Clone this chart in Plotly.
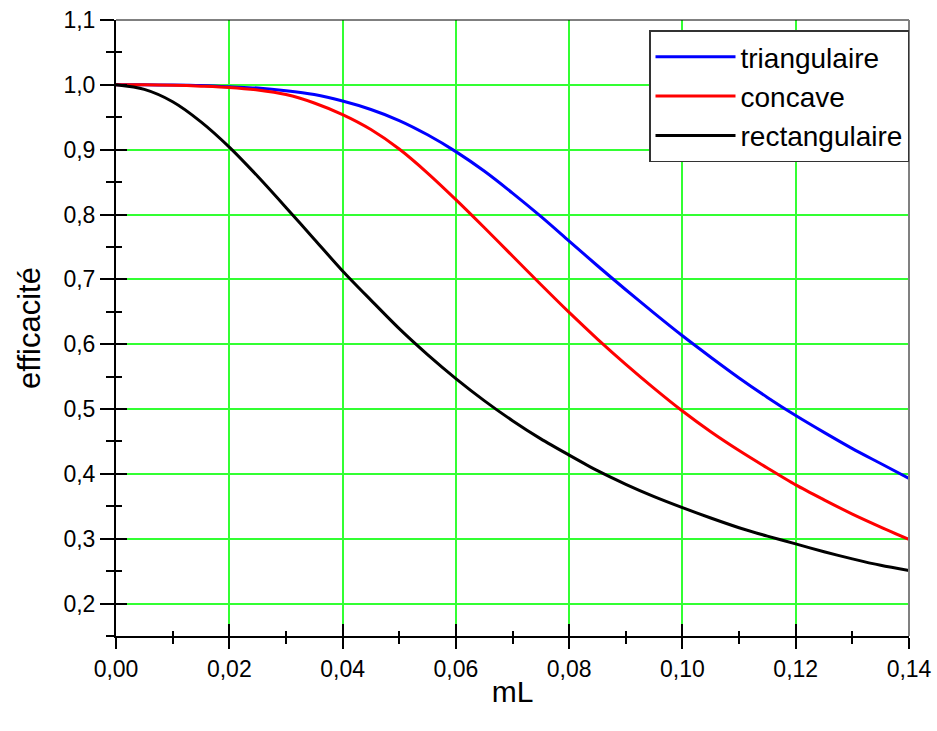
import plotly.graph_objects as go

# Fin efficiency versus mL for three fin profiles
ml = [0.000, 0.005, 0.010, 0.015, 0.020, 0.025, 0.030, 0.035, 0.040, 0.045,
      0.050, 0.055, 0.060, 0.065, 0.070, 0.075, 0.080, 0.085, 0.090, 0.095,
      0.100, 0.105, 0.110, 0.115, 0.120, 0.125, 0.130, 0.135, 0.140]

eff_triangulaire = [1.000, 1.000, 0.9998, 0.999, 0.997, 0.995, 0.991, 0.985, 0.975, 0.962,
                    0.945, 0.923, 0.897, 0.867, 0.833, 0.797, 0.759, 0.721, 0.684, 0.648,
                    0.613, 0.580, 0.548, 0.518, 0.490, 0.464, 0.439, 0.416, 0.393]

eff_concave = [1.000, 1.000, 0.9995, 0.998, 0.996, 0.992, 0.985, 0.972, 0.954, 0.931,
               0.901, 0.864, 0.823, 0.780, 0.736, 0.692, 0.649, 0.608, 0.569, 0.532,
               0.497, 0.465, 0.436, 0.409, 0.383, 0.360, 0.338, 0.318, 0.299]

eff_rectangulaire = [1.000, 0.993, 0.974, 0.943, 0.904, 0.859, 0.811, 0.762, 0.713, 0.668,
                     0.624, 0.584, 0.547, 0.513, 0.482, 0.454, 0.429, 0.405, 0.384, 0.365,
                     0.348, 0.332, 0.317, 0.304, 0.292, 0.280, 0.269, 0.259, 0.251]

series_names = ["triangulaire", "concave", "rectangulaire"]
series_colors = ["#0000ff", "#ff0000", "#000000"]

x_range = [0.0, 0.14]
y_range = [0.15, 1.1]

FONT = "Liberation Sans, Arial, sans-serif"
GRID = "#33ff33"
NONE = "rgba(0,0,0,0)"

fig = go.Figure()
for name, vals, col in zip(series_names,
                           [eff_triangulaire, eff_concave, eff_rectangulaire],
                           series_colors):
    fig.add_trace(go.Scatter(x=ml, y=vals, mode="lines", name=name,
                             line=dict(color=col, width=3, shape="spline",
                                       smoothing=0.8)))

# empty trace so the overlaid axes (inner half of the crossing ticks) are drawn
fig.add_trace(go.Scatter(x=[], y=[], xaxis="x2", yaxis="y2",
                         showlegend=False, hoverinfo="skip"))

fig.update_layout(
    width=937, height=731,
    margin=dict(l=116, r=28, t=20, b=95, autoexpand=False),
    paper_bgcolor="white", plot_bgcolor="white",
    separators=", ",
    font=dict(family=FONT, size=23, color="black"),
    showlegend=True,
    legend=dict(
        x=1.0, xanchor="right", y=0.983, yanchor="top",
        bgcolor="white", bordercolor="#333333", borderwidth=1.5,
        font=dict(family=FONT, size=28, color="black"),
        itemwidth=80, tracegroupgap=0,
    ),
    xaxis=dict(
        range=x_range, tick0=0, dtick=0.02, tickformat=".2f",
        automargin=False,
        showgrid=True, gridcolor=GRID, gridwidth=1.5,
        zeroline=False, showline=True, linecolor="black", linewidth=2,
        ticks="outside", ticklen=11, tickwidth=2, tickcolor="black",
        minor=dict(dtick=0.01, ticks="outside", ticklen=6, tickwidth=1.5,
                   tickcolor="black", showgrid=False, gridcolor=NONE),
        tickfont=dict(size=23),
        title=dict(text="mL", font=dict(size=30), standoff=0),
    ),
    yaxis=dict(
        range=y_range, tick0=0, dtick=0.1, tickformat=".1f",
        automargin=False,
        showgrid=True, gridcolor=GRID, gridwidth=1.5,
        zeroline=False, showline=True, linecolor="black", linewidth=2,
        ticks="outside", ticklen=14, tickwidth=2, tickcolor="black",
        minor=dict(dtick=0.05, ticks="outside", ticklen=8, tickwidth=1.5,
                   tickcolor="black", showgrid=False, gridcolor=NONE),
        tickfont=dict(size=23),
        title=dict(text="efficacité", font=dict(size=31), standoff=14),
    ),
    xaxis2=dict(
        overlaying="x", anchor="y", side="bottom", range=x_range,
        tick0=0, dtick=0.02, showticklabels=False, automargin=False,
        showgrid=False, gridcolor=NONE,
        zeroline=False, showline=False,
        ticks="inside", ticklen=12, tickwidth=2, tickcolor="black",
        minor=dict(dtick=0.01, ticks="inside", ticklen=5, tickwidth=1.5,
                   tickcolor="black", showgrid=False, gridcolor=NONE),
    ),
    yaxis2=dict(
        overlaying="y", anchor="x", side="left", range=y_range,
        tick0=0, dtick=0.1, showticklabels=False, automargin=False,
        showgrid=False, gridcolor=NONE,
        zeroline=False, showline=False,
        ticks="inside", ticklen=11, tickwidth=2, tickcolor="black",
        minor=dict(dtick=0.05, ticks="inside", ticklen=6, tickwidth=1.5,
                   tickcolor="black", showgrid=False, gridcolor=NONE),
    ),
    shapes=[
        # frame: thin black top edge, grey right edge
        dict(type="line", xref="paper", yref="paper", x0=0, x1=1, y0=1, y1=1,
             line=dict(color="black", width=1), layer="above"),
        dict(type="line", xref="paper", yref="paper", x0=1, x1=1, y0=0, y1=1,
             line=dict(color="#808080", width=2), layer="above"),
    ],
)

fig.write_html("out.html")
